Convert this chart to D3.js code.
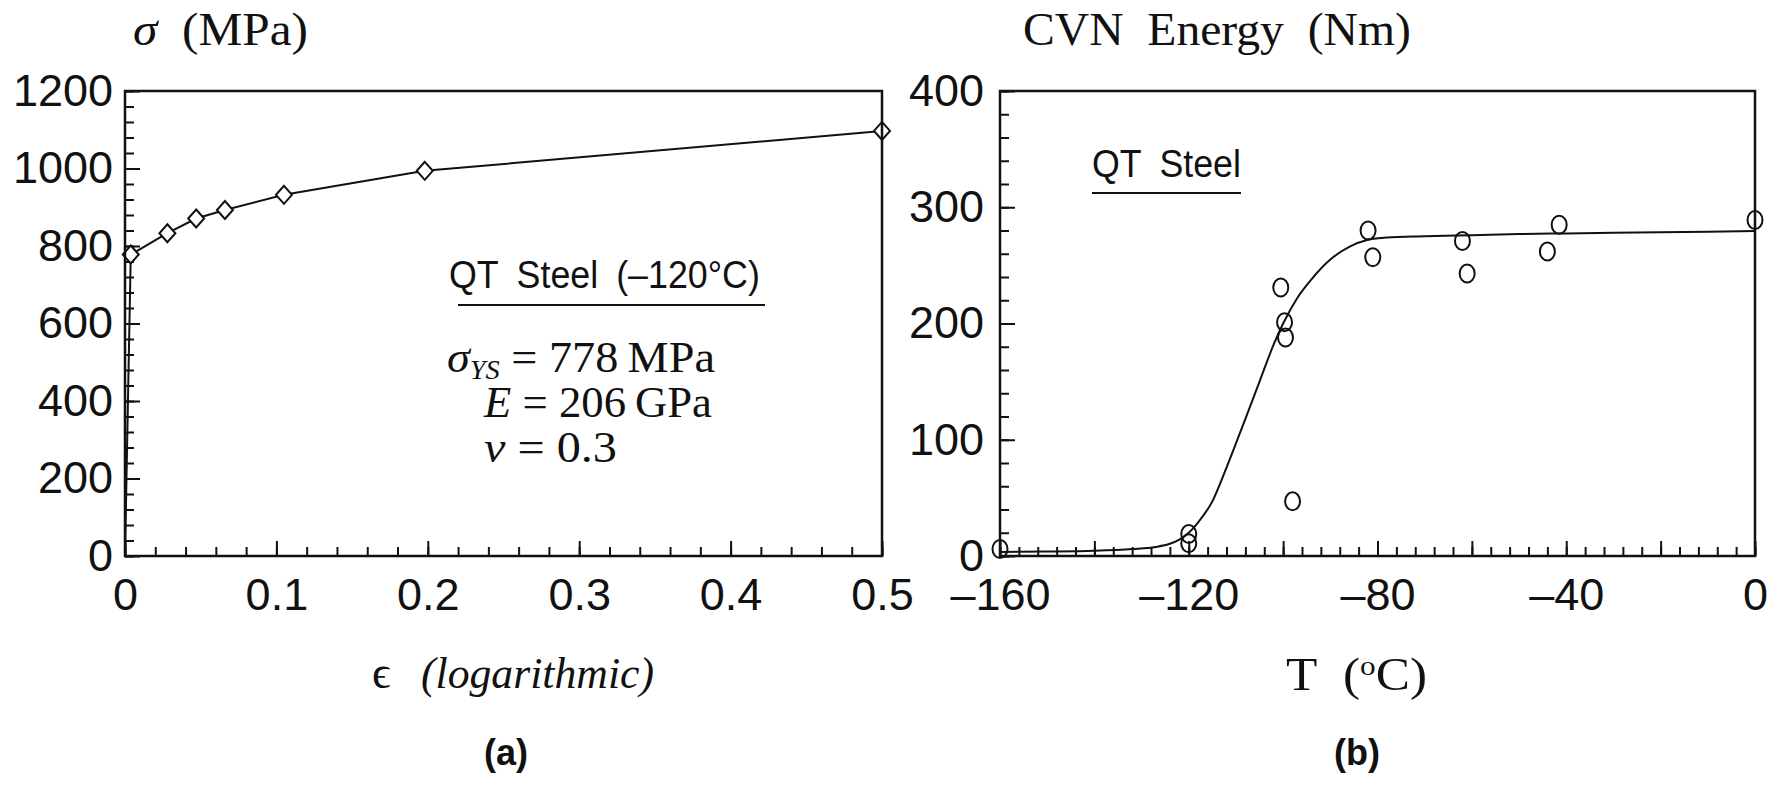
<!DOCTYPE html>
<html>
<head>
<meta charset="utf-8">
<script src="https://cdn.jsdelivr.net/npm/d3@7"></script>
<style>
body { margin: 0; background: #fff; }
svg text { fill: #111; }
.sans { font-family: "Liberation Sans", Arial, sans-serif; }
.serif { font-family: "Liberation Serif", "Times New Roman", serif; }
</style>
</head>
<body>
<svg id="fig" width="1773" height="786"></svg>
<script>
// (a) true stress vs. logarithmic strain, QT steel at -120 C
var strain = [0, 0.0038, 0.028, 0.047, 0.066, 0.105, 0.198, 0.5];
var stress = [0, 778, 833, 871, 893, 932, 994, 1097];

// (b) Charpy V-notch test results
var cvnTemp   = [-160, -120, -120, -100.5, -99.7, -99.5, -98, -82, -81, -62, -61, -44, -41.5, 0];
var cvnEnergy = [6, 19, 11, 231, 201, 188, 47, 280, 257, 271, 243, 262, 285, 289];

// transition curve drawn through the data
var fitTemp   = [-160, -150, -140, -132, -127, -124, -122, -120, -118, -115, -112, -108, -105, -102, -100, -97, -94, -90, -86, -82, -78, -70, -60, -50, -40, -20, 0];
var fitEnergy = [3.5, 3.8, 4.5, 6, 7.8, 10.5, 14, 20, 29, 47, 76, 118, 150, 182, 200, 222, 238, 255, 266, 272, 274, 275, 276, 277, 277.5, 278.5, 279.5];

// tick labels
var strainTicks = [0, 0.1, 0.2, 0.3, 0.4, 0.5];
var stressTicks = [0, 200, 400, 600, 800, 1000, 1200];
var tempTicks   = [-160, -120, -80, -40, 0];
var energyTicks = [0, 100, 200, 300, 400];

var svg = d3.select("#fig");

var A = {x0: 125, x1: 882, y0: 91, y1: 556};
var B = {x0: 1000, x1: 1755, y0: 91, y1: 556};

var xA = d3.scaleLinear().domain([0, 0.5]).range([A.x0, A.x1]);
var yA = d3.scaleLinear().domain([0, 1200]).range([A.y1, A.y0]);
var xB = d3.scaleLinear().domain([-160, 0]).range([B.x0, B.x1]);
var yB = d3.scaleLinear().domain([0, 400]).range([B.y1, B.y0]);

function steps(a, b, n) {
	var out = [];
	for (var i = 0; i <= n; i++) out.push(a + (b - a) * i / n);
	return out;
}

function ticks(g, axis, vals, len) {
	g.call(axis.tickValues(vals).tickSize(-len).tickFormat(""));
	g.select(".domain").remove();
	g.selectAll(".tick line").attr("stroke", "#111").attr("stroke-width", 2);
}

function labels(g, axis, vals, pad, fmt) {
	g.call(axis.tickValues(vals).tickSize(0).tickPadding(pad).tickFormat(fmt));
	g.select(".domain").remove();
	g.selectAll(".tick text").attr("class", "sans").attr("font-size", 45).attr("fill", "#111");
}

function dash(d) { return d < 0 ? "\u2013" + (-d) : String(d); }

function frame(P) {
	svg.append("rect")
		.attr("x", P.x0).attr("y", P.y0)
		.attr("width", P.x1 - P.x0).attr("height", P.y1 - P.y0)
		.attr("fill", "none").attr("stroke", "#111").attr("stroke-width", 2.5);
}

// text helper: starts at x, baseline y, stretched to width w when given
function put(x, y, w, cls, size, build) {
	var t = svg.append("text").attr("class", cls).attr("font-size", size).attr("x", 0).attr("y", y);
	build(t);
	var len = t.node().getComputedTextLength();
	var k = w ? w / len : 1;
	t.attr("transform", "translate(" + x + ",0) scale(" + k + ",1)");
	return t;
}
function plain(s, style) {
	return function(t) { t.text(s); if (style) t.attr("font-style", style); };
}
function span(t, s, style) {
	var sp = t.append("tspan").text(s);
	if (style) sp.attr("font-style", style);
	return sp;
}

// ---------- panel (a) ----------
var gA = svg.append("g");
ticks(gA.append("g").attr("transform", "translate(0," + A.y1 + ")"), d3.axisBottom(xA), steps(0, 0.5, 25), 9);
ticks(gA.append("g").attr("transform", "translate(0," + A.y1 + ")"), d3.axisBottom(xA), strainTicks, 15);
ticks(gA.append("g").attr("transform", "translate(" + A.x0 + ",0)"), d3.axisLeft(yA), steps(0, 1200, 30), 9);
ticks(gA.append("g").attr("transform", "translate(" + A.x0 + ",0)"), d3.axisLeft(yA), stressTicks, 15);
labels(gA.append("g").attr("transform", "translate(0," + A.y1 + ")"), d3.axisBottom(xA), strainTicks, 22, d3.format(""));
labels(gA.append("g").attr("transform", "translate(" + A.x0 + ",0)"), d3.axisLeft(yA), stressTicks, 12, d3.format(""));
frame(A);

var pts = strain.map(function(s, i) { return [s, stress[i]]; });
gA.append("path")
	.datum(pts)
	.attr("fill", "none").attr("stroke", "#111").attr("stroke-width", 2)
	.attr("d", d3.line().x(function(d) { return xA(d[0]); }).y(function(d) { return yA(d[1]); }));

gA.selectAll("path.dia")
	.data(pts.slice(1))
	.enter().append("path")
	.attr("class", "dia")
	.attr("d", function(d) {
		var cx = xA(d[0]), cy = yA(d[1]);
		return "M" + cx + "," + (cy - 9) + "L" + (cx + 8) + "," + cy + "L" + cx + "," + (cy + 9) + "L" + (cx - 8) + "," + cy + "Z";
	})
	.attr("fill", "#fff").attr("stroke", "#111").attr("stroke-width", 2);

// ---------- panel (b) ----------
var gB = svg.append("g");
ticks(gB.append("g").attr("transform", "translate(0," + B.y1 + ")"), d3.axisBottom(xB), steps(-160, 0, 40), 9);
ticks(gB.append("g").attr("transform", "translate(0," + B.y1 + ")"), d3.axisBottom(xB), steps(-160, 0, 8), 15);
ticks(gB.append("g").attr("transform", "translate(" + B.x0 + ",0)"), d3.axisLeft(yB), steps(0, 400, 20), 9);
ticks(gB.append("g").attr("transform", "translate(" + B.x0 + ",0)"), d3.axisLeft(yB), energyTicks, 15);
labels(gB.append("g").attr("transform", "translate(0," + B.y1 + ")"), d3.axisBottom(xB), tempTicks, 22, dash);
labels(gB.append("g").attr("transform", "translate(" + B.x0 + ",0)"), d3.axisLeft(yB), energyTicks, 16, d3.format(""));
frame(B);

var fit = fitTemp.map(function(t, i) { return [t, fitEnergy[i]]; });
gB.append("path")
	.datum(fit)
	.attr("fill", "none").attr("stroke", "#111").attr("stroke-width", 2)
	.attr("d", d3.line().curve(d3.curveMonotoneX).x(function(d) { return xB(d[0]); }).y(function(d) { return yB(d[1]); }));

gB.selectAll("ellipse")
	.data(cvnTemp.map(function(t, i) { return [t, cvnEnergy[i]]; }))
	.enter().append("ellipse")
	.attr("cx", function(d) { return xB(d[0]); })
	.attr("cy", function(d) { return yB(d[1]); })
	.attr("rx", 7.5).attr("ry", 9)
	.attr("fill", "none").attr("stroke", "#111").attr("stroke-width", 2);

// ---------- titles and notes ----------
put(133, 45, 175, "serif", 46, function(t) {
	span(t, "\u03c3", "italic");
	span(t, "\u2002(MPa)");
});

put(1023, 45, 388, "serif", 46, plain("CVN\u2002Energy\u2002(Nm)"));

put(372, 688, null, "serif", 46, plain("\u03f5"));
put(421, 688, 233, "serif", 45, plain("(logarithmic)", "italic"));

put(1286, 690, 141, "serif", 46, function(t) {
	span(t, "T\u2002(");
	t.append("tspan").attr("dy", -15).attr("font-size", 28).text("o");
	t.append("tspan").attr("dy", 15).text("C)");
});

svg.append("text").attr("class", "sans").attr("font-weight", "bold").attr("font-size", 36)
	.attr("x", 506).attr("y", 765).attr("text-anchor", "middle").text("(a)");
svg.append("text").attr("class", "sans").attr("font-weight", "bold").attr("font-size", 36)
	.attr("x", 1357).attr("y", 765).attr("text-anchor", "middle").text("(b)");

put(449, 288, 311, "sans", 38, plain("QT\u2002Steel\u2002(\u2013120\u00b0C)"));
svg.append("line").attr("x1", 458).attr("x2", 765).attr("y1", 305).attr("y2", 305)
	.attr("stroke", "#111").attr("stroke-width", 1.8);

put(1092, 177, 149, "sans", 38, plain("QT\u2002Steel"));
svg.append("line").attr("x1", 1092).attr("x2", 1241).attr("y1", 193).attr("y2", 193)
	.attr("stroke", "#111").attr("stroke-width", 1.8);

// material constants
put(447, 372, 268, "serif", 44, function(t) {
	span(t, "\u03c3", "italic");
	span(t, "YS", "italic").attr("font-size", 27).attr("dy", 7);
	span(t, " = 778\u2009MPa").attr("dy", -7);
});
put(484, 417, 228, "serif", 44, function(t) {
	span(t, "E", "italic");
	span(t, " = 206\u2009GPa");
});
put(484, 462, 133, "serif", 44, function(t) {
	span(t, "\u03bd", "italic");
	span(t, " = 0.3");
});
</script>
</body>
</html>
